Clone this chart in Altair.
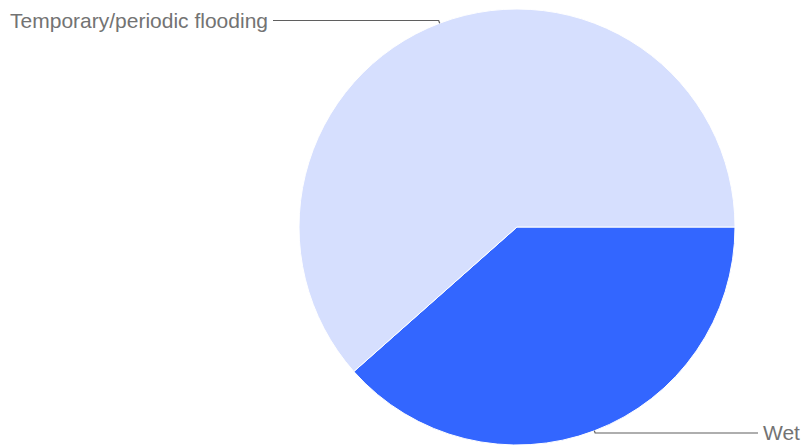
import math
import altair as alt
import pandas as pd

# Data
labels = ["Wet", "Temporary/periodic flooding"]
values = [5, 8]
colors = ["#3366ff", "#d6dffe"]

# Layout constants
W, H = 805, 447
CX, CY, R = 517, 227, 218
START = math.pi / 2
label_line_y = {"Wet": 433.0, "Temporary/periodic flooding": 20.5}
label_line_end = {"Wet": 758.0, "Temporary/periodic flooding": 273.0}
text_x = {"Wet": 763.0, "Temporary/periodic flooding": 268.0}

pie_df = pd.DataFrame({"label": labels, "value": values, "order": list(range(len(labels)))})

total = float(sum(values))
rows = []
trows = []
cum = 0.0
for lab, v in zip(labels, values):
    a0 = START + 2 * math.pi * cum / total
    cum += v
    a1 = START + 2 * math.pi * cum / total
    mid = (a0 + a1) / 2
    sx, sy = math.sin(mid), -math.cos(mid)
    ex, ey = CX + R * sx, CY + R * sy
    ly = label_line_y[lab]
    t = (ly - ey) / sy if abs(sy) > 1e-6 else 0
    bx, by = ex + t * sx, ly
    for i, (px, py) in enumerate([(ex, ey), (bx, by), (label_line_end[lab], ly)]):
        rows.append({"label": lab, "seq": i, "px": px, "py": py})
    trows.append({"label": lab, "tx": text_x[lab], "ty": ly + 1})

line_df = pd.DataFrame(rows)
text_df = pd.DataFrame(trows)

xs = alt.Scale(domain=[0, W], nice=False, zero=False)
ys = alt.Scale(domain=[0, H], nice=False, zero=False, reverse=True)

arc = alt.Chart(pie_df).mark_arc(radius=R, stroke="white", strokeWidth=1).encode(
    theta=alt.Theta("value:Q", stack=True, scale=alt.Scale(range=[START, START + 2 * math.pi])),
    order=alt.Order("order:Q"),
    color=alt.Color("label:N", scale=alt.Scale(domain=labels, range=colors), legend=None),
    x=alt.value(CX),
    y=alt.value(CY),
)

lines = alt.Chart(line_df).mark_line(stroke="#5f5f5f", strokeWidth=1.2).encode(
    x=alt.X("px:Q", scale=xs, axis=None),
    y=alt.Y("py:Q", scale=ys, axis=None),
    detail="label:N",
    order="seq:Q",
)

def text_layer(lab, align):
    return alt.Chart(text_df).transform_filter(alt.datum.label == lab).mark_text(
        align=align, baseline="middle", font="Liberation Sans", fontSize=21, color="#737373"
    ).encode(
        x=alt.X("tx:Q", scale=xs, axis=None),
        y=alt.Y("ty:Q", scale=ys, axis=None),
        text="label:N",
    )

chart = alt.layer(
    arc, lines,
    text_layer("Temporary/periodic flooding", "right"),
    text_layer("Wet", "left"),
).properties(
    width=W, height=H, padding=0, autosize=alt.AutoSizeParams(type="none"), background="white"
).configure_view(stroke=None)

chart.save("out.html", embed_options={"renderer": "svg", "actions": False})
